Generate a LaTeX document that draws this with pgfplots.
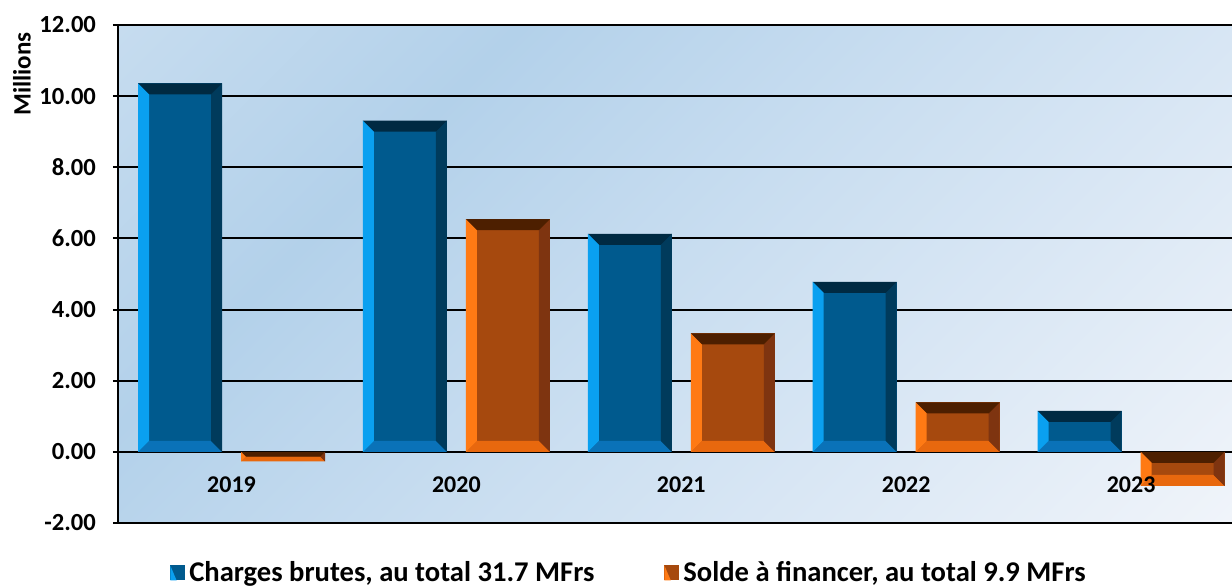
\documentclass[border=0pt]{standalone}
\usepackage{fontspec}
\setmainfont{Carlito}
\usepackage{pgfplots}
\pgfplotsset{compat=1.18}

% background and bar colours
\definecolor{bgA}{HTML}{C6DCEF}
\definecolor{bgB}{HTML}{B3D1EA}
\definecolor{bgC}{HTML}{C8DDF0}
\definecolor{bgD}{HTML}{F0F4FA}
\definecolor{bFace}{HTML}{005A8E}
\definecolor{bLeft}{HTML}{0AA0F0}
\definecolor{bTop}{HTML}{002A42}
\definecolor{bRight}{HTML}{003B5C}
\definecolor{bBot}{HTML}{0A72B8}
\definecolor{oFace}{HTML}{A6490E}
\definecolor{oLeft}{HTML}{FF7A14}
\definecolor{oTop}{HTML}{4D1F00}
\definecolor{oRight}{HTML}{7E3410}
\definecolor{oBot}{HTML}{E8680E}

\pgfdeclarehorizontalshading{plotbg}{100bp}{color(0bp)=(bgA); color(14.6bp)=(bgA);
  color(32.3bp)=(bgB); color(50bp)=(bgC); color(85.4bp)=(bgD); color(100bp)=(bgD)}

% bevel drawn with basic pgf commands (tikz paths would inherit the path picture)
\newcommand\bevquad[5]{\pgfsetfillcolor{#1}\pgfpathmoveto{#2}\pgfpathlineto{#3}%
  \pgfpathlineto{#4}\pgfpathlineto{#5}\pgfpathclose\pgfusepath{fill}}
\newcommand\bevelpaint[4]{%
  \pgfpointanchor{path picture bounding box}{south west}\pgfgetlastxy{\bxa}{\bya}%
  \pgfpointanchor{path picture bounding box}{north east}\pgfgetlastxy{\bxb}{\byb}%
  \pgfmathsetlengthmacro\bn{min(5.5pt,0.5*(\byb-\bya))}%
  \pgfmathsetlengthmacro\bxc{\bxa+\bn}\pgfmathsetlengthmacro\byc{\bya+\bn}%
  \pgfmathsetlengthmacro\bxd{\bxb-\bn}\pgfmathsetlengthmacro\byd{\byb-\bn}%
  \bevquad{#4}{\pgfpoint{\bxa}{\bya}}{\pgfpoint{\bxb}{\bya}}{\pgfpoint{\bxd}{\byc}}{\pgfpoint{\bxc}{\byc}}%
  \bevquad{#3}{\pgfpoint{\bxb}{\byb}}{\pgfpoint{\bxb}{\bya}}{\pgfpoint{\bxd}{\byc}}{\pgfpoint{\bxd}{\byd}}%
  \bevquad{#2}{\pgfpoint{\bxa}{\byb}}{\pgfpoint{\bxb}{\byb}}{\pgfpoint{\bxd}{\byd}}{\pgfpoint{\bxc}{\byd}}%
  \bevquad{#1}{\pgfpoint{\bxa}{\bya}}{\pgfpoint{\bxa}{\byb}}{\pgfpoint{\bxc}{\byd}}{\pgfpoint{\bxc}{\byc}}%
}
\newcommand\legsquare[2]{%
  \pgfsetfillcolor{#1}\pgfpathrectangle{\pgfpoint{0pt}{-3.75pt}}{\pgfpoint{7.5pt}{7.5pt}}\pgfusepath{fill}%
  \bevquad{#2}{\pgfpoint{0pt}{-3.75pt}}{\pgfpoint{0pt}{3.75pt}}{\pgfpoint{3.2pt}{-3.75pt}}{\pgfpoint{0pt}{-3.75pt}}}

\tikzset{year/.style={font=\bfseries\fontsize{12}{14}\selectfont}}

\pgfplotsset{
  charges/.style={ybar, bar width=42pt, bar shift=-25.75pt, fill=bFace, draw=none,
    path picture={\bevelpaint{bLeft}{bTop}{bRight}{bBot}},
    legend image code/.code={\legsquare{bFace}{bLeft}}},
  solde/.style={ybar, bar width=42pt, bar shift=25.75pt, fill=oFace, draw=none,
    path picture={\bevelpaint{oLeft}{oTop}{oRight}{oBot}},
    legend image code/.code={\legsquare{oFace}{oLeft}}},
}

\begin{document}
\begin{tikzpicture}
\begin{axis}[
  scale only axis, width=557pt, height=249pt,
  xmin=-0.5047, xmax=4.4486, ymin=-2, ymax=12,
  axis lines=left, axis line style={-, black, line width=1pt},
  ytick={-2,0,2,4,6,8,10,12},
  ymajorgrids, grid style={black, line width=1pt},
  xtick=\empty,
  tick align=outside, ytick style={black, line width=1pt}, major tick length=2.5pt,
  y tick label style={font=\bfseries\fontsize{12.3}{14}\selectfont, xshift=-5pt},
  yticklabel style={/pgf/number format/fixed, /pgf/number format/fixed zerofill,
    /pgf/number format/precision=2, /pgf/number format/assume math mode=true},
  axis background/.style={shading=plotbg, shading angle=-45},
  legend style={at={(0.4596,0)}, anchor=center, yshift=-25pt, draw=none, fill=none,
    font=\bfseries\fontsize{14.3}{16}\selectfont, legend columns=2,
    /tikz/every even column/.append style={column sep=33pt}},
  legend cell align=left,
  clip=false,
]
\addplot[charges] coordinates {(0,10.36)};
\addlegendentry{Charges brutes, au total 31.7 MFrs}
\addplot[solde] coordinates {(0,-0.27)};
\addlegendentry{Solde à financer, au total 9.9 MFrs}
\addplot[charges, forget plot] coordinates {(1,9.31)};
\addplot[charges, forget plot] coordinates {(2,6.13)};
\addplot[charges, forget plot] coordinates {(3,4.78)};
\addplot[charges, forget plot] coordinates {(4,1.15)};
\addplot[solde, forget plot] coordinates {(1,6.54)};
\addplot[solde, forget plot] coordinates {(2,3.33)};
\addplot[solde, forget plot] coordinates {(3,1.39)};
\addplot[solde, forget plot] coordinates {(4,-0.96)};
% category labels sit inside the plot area, on top of the bars
\node[year] at (axis cs:0,-0.91) {2019};
\node[year] at (axis cs:1,-0.91) {2020};
\node[year] at (axis cs:2,-0.91) {2021};
\node[year] at (axis cs:3,-0.91) {2022};
\node[year] at (axis cs:4,-0.91) {2023};
\end{axis}
\path (current axis.north west) ++(-48pt,-24.5pt)
  node[rotate=90, font=\bfseries\fontsize{12.5}{14}\selectfont] {Millions};
\path (current axis.south west) ++(-59pt,-31.5pt) coordinate (bbA);
\path (current axis.north east) ++(0pt,12.5pt) coordinate (bbB);
\pgfresetboundingbox
\path (bbA) rectangle (bbB);
\end{tikzpicture}
\end{document}
